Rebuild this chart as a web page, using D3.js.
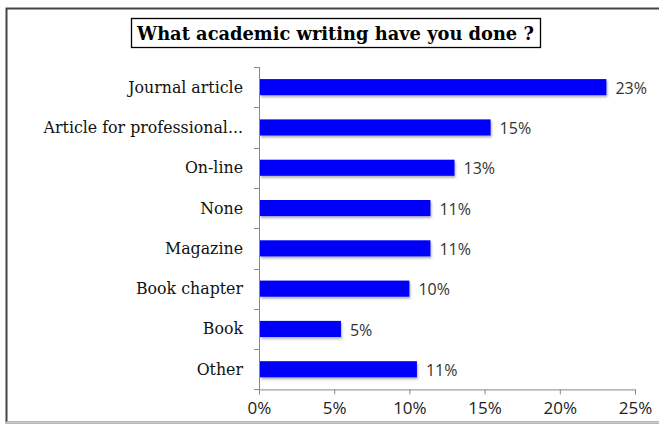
<!DOCTYPE html>
<html>
<head>
<meta charset="utf-8">
<script src="https://cdn.jsdelivr.net/npm/d3@7"></script>
<style>
  body { margin: 0; background: #fff; }
  svg { display: block; }
</style>
</head>
<body>
<div id="chart"></div>
<script>
// chart data
const categories = ['Journal article', 'Article for professional...', 'On-line', 'None',
  'Magazine', 'Book chapter', 'Book', 'Other'];
const values = [23.1, 15.4, 13.0, 11.4, 11.4, 10.0, 5.45, 10.5];
const valueLabels = ['23%', '15%', '13%', '11%', '11%', '10%', '5%', '11%'];
const xTicks = [0, 5, 10, 15, 20, 25];
const title = 'What academic writing have you done ?';

const W = 659, H = 424;
const margin = { top: 67, left: 259, right: 24, bottom: 34.6 };
const innerH = H - margin.top - margin.bottom;

const svg = d3.select('#chart').append('svg')
  .attr('width', W).attr('height', H);

const defs = svg.append('defs');
const shadow = defs.append('filter').attr('id', 'shadow')
  .attr('x', '-5%').attr('y', '-20%').attr('width', '115%').attr('height', '160%');
shadow.append('feDropShadow').attr('dx', 1).attr('dy', 2)
  .attr('stdDeviation', 1.2).attr('flood-color', '#000').attr('flood-opacity', 0.3);

// outer frame (right side is cut off in the original)
svg.append('path')
  .attr('d', `M${W + 5},8.5 H6.5 V${H - 1.5} H${W + 5}`)
  .attr('fill', 'none').attr('stroke', '#444').attr('stroke-width', 2);
svg.append('line').attr('x1', 6).attr('x2', W).attr('y1', H - 1.5).attr('y2', H - 1.5)
  .attr('stroke', '#ccc').attr('stroke-width', 2);

// title in a box
const titleText = svg.append('text')
  .attr('x', 335.5).attr('y', 40)
  .attr('text-anchor', 'middle')
  .style('font-family', '"DejaVu Serif", serif')
  .style('font-weight', 'bold')
  .style('font-size', '18px')
  .attr('fill', '#000')
  .text(title);
const tw = titleText.node().getComputedTextLength();
titleText.style('font-size', (18 * 397 / tw) + 'px');
svg.append('rect')
  .attr('x', 131.5).attr('y', 18.5).attr('width', 409).attr('height', 29)
  .attr('fill', 'none').attr('stroke', '#000').attr('stroke-width', 1.3);

const g = svg.append('g').attr('transform', `translate(${margin.left},${margin.top})`);

const x = d3.scaleLinear().domain([0, 25]).range([0, 376]);
const y = d3.scaleBand().domain(categories).range([0, innerH]).paddingInner(0.6).paddingOuter(0.3);

// axes
const xAxis = g.append('g').attr('transform', `translate(0,${innerH})`)
  .call(d3.axisBottom(x).tickValues(xTicks).tickFormat(d => d + '%').tickSizeOuter(0).tickSize(5));
xAxis.select('.domain').attr('stroke', '#888');
xAxis.selectAll('.tick line').attr('stroke', '#888');
xAxis.selectAll('.tick text')
  .attr('y', 13)
  .style('font-family', '"Open Sans", sans-serif')
  .style('font-size', '17px')
  .attr('fill', '#222');

// y axis line with ticks between categories
const yStep = innerH / categories.length;
g.append('line').attr('x1', 0.5).attr('x2', 0.5).attr('y1', 0).attr('y2', innerH)
  .attr('stroke', '#888');
g.selectAll('.ytick').data(d3.range(categories.length + 1)).join('line')
  .attr('class', 'ytick')
  .attr('x1', -5).attr('x2', 0.5)
  .attr('y1', i => Math.round(i * yStep) + 0.5).attr('y2', i => Math.round(i * yStep) + 0.5)
  .attr('stroke', '#888');

const cats = g.selectAll('.cat').data(categories).join('text')
  .attr('class', 'cat')
  .attr('x', -16)
  .attr('y', d => y(d) + y.bandwidth() / 2)
  .attr('dy', '0.35em')
  .attr('text-anchor', 'end')
  .style('font-family', '"DejaVu Serif", serif')
  .style('font-size', '14px')
  .attr('fill', '#111')
  .text(d => d);
const cw = cats.filter((d, i) => i === 0).node().getComputedTextLength();
cats.style('font-size', (14 * 115 / cw) + 'px');

// bars
g.selectAll('.bar').data(values).join('rect')
  .attr('class', 'bar')
  .attr('x', 1)
  .attr('y', (d, i) => y(categories[i]))
  .attr('width', d => x(d) - 1)
  .attr('height', y.bandwidth())
  .attr('fill', '#0000fa')
  .attr('filter', 'url(#shadow)');

g.selectAll('.val').data(values).join('text')
  .attr('class', 'val')
  .attr('x', d => x(d) + 9)
  .attr('y', (d, i) => y(categories[i]) + y.bandwidth() / 2 + 1)
  .attr('dy', '0.35em')
  .style('font-family', '"Open Sans", sans-serif')
  .style('font-size', '16px')
  .attr('fill', '#333')
  .text((d, i) => valueLabels[i]);
</script>
</body>
</html>
